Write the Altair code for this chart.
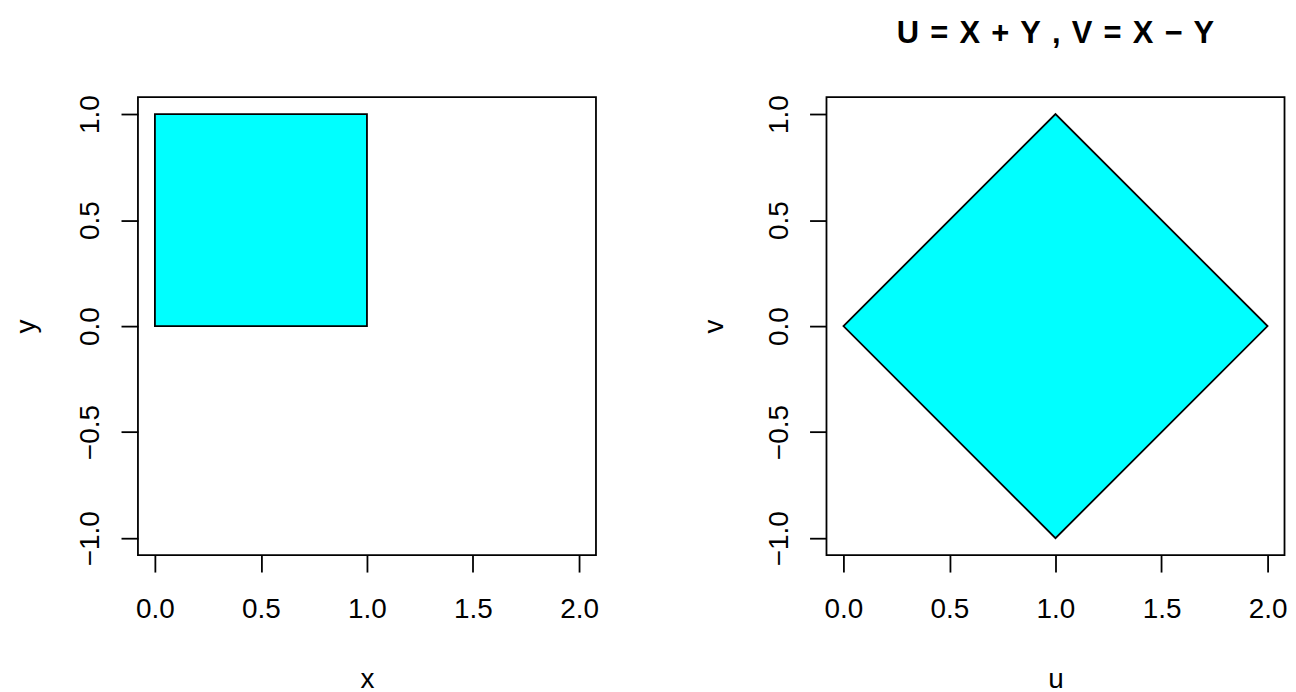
import altair as alt
import pandas as pd

# ---- data -------------------------------------------------------------
# Left panel: the unit square in the (x, y) plane
sq_x = [0.0]
sq_x2 = [1.0]
sq_y = [0.0]
sq_y2 = [1.0]

# Right panel: its image under U = X + Y, V = X - Y (a diamond)
dia_u = [0.0, 1.0, 2.0]
dia_v_top = [0.0, 1.0, 0.0]
dia_v_bot = [0.0, -1.0, 0.0]

x_ticks = [0.0, 0.5, 1.0, 1.5, 2.0]
y_ticks = [-1.0, -0.5, 0.0, 0.5, 1.0]
x_domain = [-0.08, 2.08]
y_domain = [-1.08, 1.08]

left_titles = ["x", "y"]
right_titles = ["u", "v"]
GAP = "\u00a0\u200a"
main_title = GAP.join(["U", "=", "X", "+", "Y", ",", "V", "=", "X", "\u2212", "Y"])

FILL = "#00FFFF"
FONT = "Liberation Sans"
W = 460
H = 460
TITLE_SIZE = 31

df_sq = pd.DataFrame({"x": sq_x, "x2": sq_x2, "y": sq_y, "y2": sq_y2})
df_dia = pd.DataFrame({"u": dia_u, "vt": dia_v_top, "vb": dia_v_bot})


def xaxis(title):
    return alt.Axis(
        values=x_ticks, format=".1f", title=title, grid=False, domain=False,
        tickSize=17, tickWidth=1.8, tickColor="black",
        labelFont=FONT, labelFontSize=28, labelColor="black",
        labelPadding=46, labelBaseline="alphabetic", labelAlign="center",
        labelAngle=0, labelOverlap=False, labelFlush=False,
        titleFont=FONT, titleFontSize=28, titleFontWeight="normal", titleColor="black",
        titleX=W / 2, titleY=132.5, titleAlign="center", titleBaseline="alphabetic",
        titleAngle=0,
    )


def yaxis(title):
    return alt.Axis(
        values=y_ticks, format=".1f", title=title, grid=False, domain=False,
        tickSize=17, tickWidth=1.8, tickColor="black",
        labelFont=FONT, labelFontSize=28, labelColor="black",
        labelPadding=22.5, labelBaseline="alphabetic", labelAlign="center",
        labelAngle=270, labelOverlap=False, labelFlush=False,
        titleFont=FONT, titleFontSize=28, titleFontWeight="normal", titleColor="black",
        titleX=-104, titleY=H / 2, titleAlign="center", titleBaseline="alphabetic",
        titleAngle=270,
    )


xs = alt.Scale(domain=x_domain, nice=False, zero=False)
ys = alt.Scale(domain=y_domain, nice=False, zero=False)

left = alt.Chart(df_sq).mark_rect(
    fill=FILL, stroke="black", strokeWidth=1.8
).encode(
    x=alt.X("x:Q", scale=xs, axis=xaxis(left_titles[0])),
    x2="x2:Q",
    y=alt.Y("y:Q", scale=ys, axis=yaxis(left_titles[1])),
    y2="y2:Q",
).properties(width=W, height=H)

right = alt.Chart(df_dia).mark_area(
    fill=FILL, stroke="black", strokeWidth=1.8, fillOpacity=1
).encode(
    x=alt.X("u:Q", scale=xs, axis=xaxis(right_titles[0])),
    y=alt.Y("vt:Q", scale=ys, axis=yaxis(right_titles[1])),
    y2="vb:Q",
).properties(
    width=W, height=H,
    title=alt.TitleParams(
        text=main_title, font=FONT, fontSize=TITLE_SIZE, fontWeight="bold", color="black",
        anchor="middle", frame="group", offset=21, baseline="alphabetic",
    ),
)

chart = alt.hconcat(left, right, spacing=231.5, bounds="flush").properties(
    padding={"left": 3.5, "top": 7, "right": 0, "bottom": 0}
).configure_view(stroke="black", strokeWidth=1.8)

chart.save("out.html", embed_options={"renderer": "svg", "actions": False})
